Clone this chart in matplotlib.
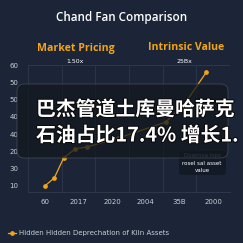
import matplotlib
matplotlib.use("Agg")
import matplotlib.pyplot as plt
from matplotlib.patches import FancyBboxPatch
import matplotlib.patheffects as pe
import numpy as np

# ---- data ----
x_categories = ["60", "2017", "2020", "2004", "35B", "2000"]
y_tick_labels = ["10", "30", "20", "40", "40", "50", "50", "60"]
series_x = [0, 0.28, 0.56, 0.9, 1.24, 2.18, 3.59, 4.15, 4.8]
series_y = [10, 13.3, 21.6, 25.3, 26.1, 29.8, 36.4, 43.9, 57.1]
series_name = "Hidden Hidden Deprechation of Kiln Assets"
title = "Chand Fan Comparison"
panel_titles = ["Market Pricing", "Intrinsic Value"]
panel_subs = ["1.50x", "25Bx"]
overlay_lines = ["巴杰管道土库曼哈萨克", "石油占比17.4% 增长1."]
note_lines = ["Dowmsa lops", "rosel sal asset", "value"]

BG = "#1b2537"
ORANGE = "#f2a516"
GRID = "#2c3749"
TICK = "#c9ced6"

W = H = 243
fig = plt.figure(figsize=(2.43, 2.43), dpi=100)
fig.patch.set_facecolor(BG)

def fx(px):
    return px / W

def fy(py):
    return 1 - py / H

ax = fig.add_axes([fx(28), fy(192), fx(230) - fx(28), fy(65) - fy(192)])
ax.set_facecolor(BG)
ax.set_xlim(-0.42, 5.28)
ax.set_ylim(7.5, 60)

yt = [10 + k * 50 / 7 for k in range(8)]
ax.set_yticks(yt)
ax.set_yticklabels(y_tick_labels)
ax.set_xticks(range(len(x_categories)))
ax.set_xticklabels(x_categories)
ax.set_xticks([i + 0.5 for i in range(-1, 6)], minor=True)
ax.tick_params(axis="both", which="both", length=0, colors=TICK, labelsize=5)
ax.tick_params(axis="y", pad=7)
ax.tick_params(axis="x", pad=5)
ax.grid(True, axis="x", which="minor", color=GRID, lw=0.6)
ax.axhline(60, color=GRID, lw=0.8)
for s in ["top", "right"]:
    ax.spines[s].set_visible(False)
ax.spines["left"].set_color(GRID)
ax.spines["bottom"].set_color(GRID)
ax.spines["left"].set_linewidth(0.6)
ax.spines["bottom"].set_linewidth(0.8)

line, = ax.plot(series_x, series_y, color=ORANGE, lw=0.9, marker="o",
                markersize=2.4, label=series_name, zorder=3)

# titles
fig.text(fx(122), fy(17), title, color="white", fontsize=8.4,
         fontweight="semibold", family="Open Sans", ha="center", va="center")
for cx, t in zip([76, 186], panel_titles):
    fig.text(fx(cx), fy(48), t, color=ORANGE, fontsize=7.6, fontweight="bold",
             family="Open Sans", ha="center", va="center")
fig.text(fx(75), fy(61), panel_subs[0], color="white", fontsize=4.5,
         ha="center", va="center")
fig.text(fx(184), fy(61), panel_subs[1], color="white", fontsize=4.5,
         ha="center", va="center")

# annotation box
nb = FancyBboxPatch((fx(179), fy(175)), fx(226) - fx(179), fy(151) - fy(175),
                    boxstyle="round,pad=0,rounding_size=0.012",
                    transform=fig.transFigure, facecolor="#121a27",
                    edgecolor="none", zorder=4)
fig.patches.append(nb)
fig.text(fx(202), fy(155.5), note_lines[0], color="#8a93a3", fontsize=4,
         ha="center", va="center", zorder=5)
fig.text(fx(202), fy(163.5), note_lines[1], color="white", fontsize=4,
         ha="center", va="center", zorder=5)
fig.text(fx(202), fy(170.5), note_lines[2], color="white", fontsize=4,
         ha="center", va="center", zorder=5)

# overlay
ob = FancyBboxPatch((fx(17), fy(158)), fx(228) - fx(17), fy(84) - fy(158),
                    boxstyle="round,pad=0,rounding_size=0.03",
                    transform=fig.transFigure, facecolor="#14181e",
                    alpha=0.76, edgecolor="#4a5260", linewidth=0.6, zorder=6)
fig.patches.append(ob)
stroke = [pe.withStroke(linewidth=1.5, foreground="#0a0a0a")]
fig.text(fx(36), fy(109), overlay_lines[0], color="white", fontsize=14.3,
         fontweight="bold", family=["Noto Sans CJK SC", "DejaVu Sans"],
         ha="left", va="center", zorder=7, path_effects=stroke)
fig.text(fx(36), fy(135), overlay_lines[1], color="white", fontsize=14.3,
         fontweight="bold", family=["Noto Sans CJK SC", "DejaVu Sans"],
         ha="left", va="center", zorder=7, path_effects=stroke)

# legend
fig.legend(handles=[line], loc="center left", bbox_to_anchor=(fx(5), fy(233)),
           frameon=False, fontsize=5, labelcolor=TICK, handlelength=1.2,
           handletextpad=0.4, borderaxespad=0)

fig.savefig("out.png", dpi=100, facecolor=BG)
